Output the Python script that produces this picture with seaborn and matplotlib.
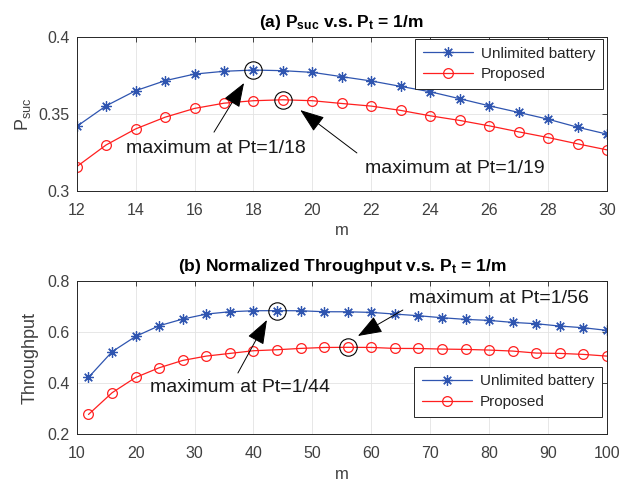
import numpy as np
import matplotlib
matplotlib.use("Agg")
import matplotlib.pyplot as plt
import seaborn as sns

# ---- data ----
m_a = list(range(12, 31))
psuc_unlimited = [0.3419, 0.3553, 0.3651, 0.3716, 0.3759, 0.3777, 0.3785, 0.3781, 0.3770,
                  0.3742, 0.3714, 0.3679, 0.3644, 0.3599, 0.3553, 0.3510, 0.3466, 0.3414, 0.3369]
psuc_proposed = [0.3158, 0.3299, 0.3403, 0.3479, 0.3536, 0.3570, 0.3586, 0.3592, 0.3586,
                 0.3568, 0.3551, 0.3523, 0.3488, 0.3458, 0.3423, 0.3384, 0.3347, 0.3306, 0.3267]

m_b = list(range(12, 101, 4))
thr_unlimited = [0.4221, 0.5225, 0.5824, 0.6241, 0.6502, 0.6697, 0.6788, 0.6827, 0.6830,
                 0.6826, 0.6788, 0.6786, 0.6762, 0.6697, 0.6632, 0.6554, 0.6489, 0.6449,
                 0.6371, 0.6319, 0.6228, 0.6163, 0.6059]
thr_proposed = [0.2775, 0.3622, 0.4221, 0.4599, 0.4886, 0.5055, 0.5160, 0.5264, 0.5303,
                0.5355, 0.5392, 0.5398, 0.5393, 0.5355, 0.5352, 0.5329, 0.5316, 0.5290,
                0.5251, 0.5173, 0.5160, 0.5121, 0.5055]

BLUE = "#2f55b0"
RED = "#ff1f1f"
TXT = "#404040"

sns.set_theme(style="white")
plt.rcParams["font.family"] = ["Liberation Sans", "DejaVu Sans"]
plt.rcParams["mathtext.fontset"] = "custom"
plt.rcParams["mathtext.rm"] = "Liberation Sans"
plt.rcParams["mathtext.bf"] = "Liberation Sans:bold"
plt.rcParams["mathtext.it"] = "Liberation Sans:italic"

fig = plt.figure(figsize=(6.21, 4.86), dpi=100)
ax1 = fig.add_axes([0.1235, 0.607, 0.854, 0.317])
ax2 = fig.add_axes([0.1235, 0.1064, 0.854, 0.316])

star = (8, 2, 0)


def draw(ax, x, y_unl, y_prop):
    sns.lineplot(x=x, y=y_unl, ax=ax, color=BLUE, lw=0.9, marker=star, markersize=7.5,
                 markeredgecolor=BLUE, markeredgewidth=0.9, label="Unlimited battery")
    sns.lineplot(x=x, y=y_prop, ax=ax, color=RED, lw=0.9, marker="o", markersize=7,
                 markerfacecolor="none", markeredgecolor=RED, markeredgewidth=0.9,
                 label="Proposed")
    # circle the maxima
    for ys in (y_unl, y_prop):
        i = int(np.argmax(ys))
        ax.plot(x[i], ys[i], marker="o", ms=12.5, mfc="none", mec="black", mew=0.8, ls="none")


def style(ax):
    ax.grid(True, color="#e3e3e3", lw=0.6)
    ax.set_axisbelow(True)
    for s in ax.spines.values():
        s.set_color("#262626")
        s.set_linewidth(0.7)
    ax.tick_params(direction="in", length=3.5, width=0.6, colors="#262626",
                   labelcolor=TXT, labelsize=11.5, top=True, right=True, pad=5)
    ax.tick_params(axis="x", pad=8.5)


def arrow(ax, tip, tail):
    ax.annotate("", xy=tip, xytext=tail,
                arrowprops=dict(arrowstyle="-|>,head_length=0.95,head_width=0.35",
                                mutation_scale=16, color="black", lw=0.7,
                                shrinkA=0, shrinkB=0))


def legend(ax, anchor, loc):
    leg = ax.legend(loc=loc, bbox_to_anchor=anchor, fontsize=11, handlelength=3.3,
                    fancybox=False, framealpha=1, edgecolor="#262626", borderpad=0.5,
                    labelspacing=0.45, borderaxespad=0, handletextpad=0.5)
    leg.get_frame().set_linewidth(0.7)


# ---- (a) ----
draw(ax1, m_a, psuc_unlimited, psuc_proposed)
style(ax1)
ax1.set_xlim(12, 30)
ax1.set_ylim(0.3, 0.4)
ax1.set_xticks(range(12, 31, 2))
ax1.set_yticks([0.3, 0.35, 0.4])
ax1.set_yticklabels(["0.3", "0.35", "0.4"])
ax1.set_xlabel("m", fontsize=12, color=TXT, labelpad=4)
ax1.set_ylabel(r"P$_{\mathrm{suc}}$", fontsize=13, color=TXT, labelpad=4)
ax1.set_title(r"(a) $\mathbf{P}_{\mathbf{suc}}$ v.s. $\mathbf{P}_{\mathbf{t}}$ = 1/m",
              fontsize=12.5, fontweight="bold", color="black", pad=7)
arrow(ax1, (17.68, 0.3701), (16.66, 0.3382))
ax1.text(16.73, 0.3278, "maximum at Pt=1/18", fontsize=14, ha="center", va="center", color="#1a1a1a")
arrow(ax1, (19.59, 0.3525), (21.51, 0.3247))
ax1.text(24.82, 0.3149, "maximum at Pt=1/19", fontsize=14, ha="center", va="center", color="#1a1a1a")
legend(ax1, (0.9925, 0.987), "upper right")

# ---- (b) ----
draw(ax2, m_b, thr_unlimited, thr_proposed)
style(ax2)
ax2.set_xlim(10, 100)
ax2.set_ylim(0.2, 0.8)
ax2.set_xticks(range(10, 101, 10))
ax2.set_yticks([0.2, 0.4, 0.6, 0.8])
ax2.set_xlabel("m", fontsize=12, color=TXT, labelpad=4)
ax2.set_ylabel("Throughput", fontsize=13, color=TXT, labelpad=6)
ax2.set_title(r"(b) Normalized Throughput v.s. $\mathbf{P}_{\mathbf{t}}$ = 1/m",
              fontsize=12.5, fontweight="bold", color="black", pad=7)
arrow(ax2, (42.28, 0.6465), (37.36, 0.4395))
ax2.text(37.7, 0.382, "maximum at Pt=1/44", fontsize=14, ha="center", va="center", color="#1a1a1a")
arrow(ax2, (57.72, 0.584), (65.35, 0.6855))
ax2.text(81.6, 0.7324, "maximum at Pt=1/56", fontsize=14, ha="center", va="center", color="#1a1a1a")
legend(ax2, (0.9906, 0.1126), "lower right")

fig.savefig("out.png", dpi=100)
